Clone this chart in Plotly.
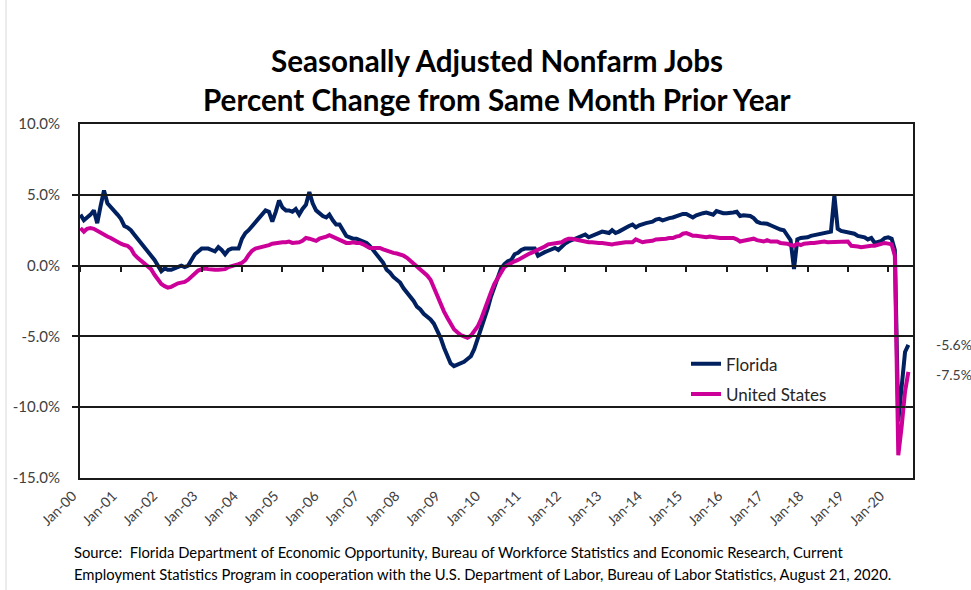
import pandas as pd
import plotly.graph_objects as go

# ---------------- data (percent change from same month prior year) ----------------
months = pd.date_range("2000-01-01", periods=247, freq="MS")

florida = [
    3.6, 3.2, 3.4, 3.6, 3.9, 3.0, 4.2, 5.3, 4.4, 4.1, 3.8, 3.6,          # 2000
    3.3, 2.8, 2.7, 2.5, 2.2, 1.9, 1.6, 1.3, 1.0, 0.7, 0.4, 0.0,          # 2001
    -0.4, -0.2, -0.3, -0.3, -0.2, -0.1, 0.0, -0.1, 0.0, 0.4, 0.8, 1.0,   # 2002
    1.2, 1.2, 1.2, 1.1, 1.0, 1.3, 1.1, 0.8, 1.1, 1.2, 1.2, 1.2,          # 2003
    1.9, 2.3, 2.5, 2.8, 3.1, 3.4, 3.6, 3.9, 3.8, 3.1, 3.8, 4.6,          # 2004
    4.1, 3.9, 3.9, 3.8, 4.0, 3.6, 4.0, 4.3, 5.2, 4.4, 3.9, 3.7,          # 2005
    3.5, 3.4, 3.6, 3.2, 2.9, 2.9, 2.5, 2.1, 2.0, 1.9, 1.9, 1.8,          # 2006
    1.7, 1.6, 1.4, 1.1, 0.8, 0.5, 0.2, -0.3, -0.5, -0.8, -1.0, -1.2,     # 2007
    -1.6, -1.9, -2.1, -2.5, -2.9, -3.1, -3.4, -3.6, -3.8, -4.1, -4.6, -5.1,  # 2008
    -5.8, -6.4, -6.9, -7.1, -7.0, -6.9, -6.8, -6.6, -6.4, -5.9, -5.2, -4.4,  # 2009
    -3.7, -3.0, -2.2, -1.5, -0.9, -0.2, 0.1, 0.3, 0.4, 0.8, 0.9, 1.1,    # 2010
    1.2, 1.2, 1.25, 1.2, 0.7, 0.85, 0.95, 1.05, 1.15, 1.25, 1.1, 1.35,   # 2011
    1.55, 1.7, 1.8, 1.9, 2.0, 2.1, 2.2, 2.0, 2.1, 2.2, 2.3, 2.4,         # 2012
    2.35, 2.3, 2.5, 2.3, 2.4, 2.55, 2.7, 2.8, 2.9, 2.7, 2.85, 2.95,      # 2013
    3.0, 3.05, 3.1, 3.25, 3.3, 3.2, 3.3, 3.35, 3.4, 3.5, 3.6, 3.65,      # 2014
    3.65, 3.55, 3.4, 3.55, 3.65, 3.7, 3.75, 3.7, 3.6, 3.85, 3.75, 3.7,   # 2015
    3.7, 3.7, 3.75, 3.8, 3.5, 3.55, 3.5, 3.5, 3.35, 3.1, 3.0, 3.0,       # 2016
    2.95, 2.85, 2.75, 2.65, 2.55, 2.5, 2.2, 1.8, -0.25, 1.85, 1.95, 1.95,  # 2017
    2.0, 2.1, 2.15, 2.15, 2.2, 2.25, 2.35, 2.4, 4.95, 2.6, 2.45, 2.4,    # 2018
    2.4, 2.3, 2.25, 2.1, 2.05, 2.0, 1.85, 1.95, 1.6, 1.65, 1.75, 1.95,   # 2019
    2.0, 1.9, 1.1, -11.0, -8.4, -6.1, -5.6,                              # 2020
]

united_states = [
    2.65, 2.4, 2.6, 2.65, 2.6, 2.45, 2.35, 2.2, 2.05, 1.95, 1.8, 1.7,    # 2000
    1.55, 1.45, 1.4, 1.2, 0.8, 0.55, 0.35, 0.15, -0.05, -0.25, -0.65, -1.0,  # 2001
    -1.3, -1.45, -1.55, -1.5, -1.35, -1.25, -1.2, -1.15, -1.0, -0.8, -0.55, -0.35,  # 2002
    -0.25, -0.2, -0.25, -0.3, -0.3, -0.3, -0.3, -0.25, -0.1, -0.05, 0.05, 0.1,  # 2003
    0.2, 0.4, 0.75, 1.05, 1.2, 1.25, 1.3, 1.4, 1.45, 1.55, 1.6, 1.65,    # 2004
    1.65, 1.65, 1.7, 1.6, 1.6, 1.65, 1.75, 1.95, 1.9, 1.8, 1.75, 1.9,    # 2005
    1.95, 2.05, 2.15, 2.05, 1.95, 1.8, 1.7, 1.6, 1.6, 1.65, 1.6, 1.6,    # 2006
    1.5, 1.35, 1.25, 1.25, 1.25, 1.25, 1.15, 1.05, 0.95, 0.9, 0.85, 0.8,  # 2007
    0.7, 0.55, 0.35, 0.1, -0.1, -0.3, -0.45, -0.7, -1.0, -1.6, -2.2, -2.8,  # 2008
    -3.25, -3.7, -4.15, -4.5, -4.7, -4.9, -5.0, -5.1, -4.95, -4.65, -4.3, -3.8,  # 2009
    -3.1, -2.5, -1.9, -1.3, -0.9, -0.45, -0.1, 0.05, 0.2, 0.3, 0.4, 0.55,  # 2010
    0.7, 0.8, 0.9, 1.0, 1.1, 1.2, 1.35, 1.5, 1.55, 1.6, 1.6, 1.65,       # 2011
    1.8, 1.9, 1.9, 1.85, 1.75, 1.7, 1.65, 1.65, 1.65, 1.6, 1.6, 1.6,     # 2012
    1.55, 1.5, 1.5, 1.55, 1.6, 1.6, 1.65, 1.65, 1.65, 1.85, 1.75, 1.65,  # 2013
    1.7, 1.7, 1.75, 1.85, 1.85, 1.9, 1.9, 1.95, 1.95, 2.05, 2.1, 2.25,   # 2014
    2.3, 2.2, 2.1, 2.1, 2.05, 2.05, 2.0, 2.05, 2.0, 2.0, 1.95, 1.95,     # 2015
    1.95, 2.0, 1.95, 1.85, 1.7, 1.75, 1.8, 1.85, 1.9, 1.8, 1.75, 1.7,    # 2016
    1.8, 1.7, 1.7, 1.7, 1.6, 1.6, 1.55, 1.45, 1.4, 1.55, 1.45, 1.55,     # 2017
    1.6, 1.6, 1.6, 1.65, 1.65, 1.7, 1.65, 1.65, 1.65, 1.65, 1.65, 1.7,   # 2018
    1.7, 1.4, 1.4, 1.35, 1.3, 1.35, 1.35, 1.4, 1.4, 1.45, 1.5, 1.6,      # 2019
    1.55, 1.5, 0.7, -13.4, -11.4, -8.9, -7.5,                            # 2020
]

tick_years = list(range(2000, 2021))
x_ticktext = [f"Jan-{y % 100:02d}" for y in tick_years]
tick_dates = [pd.Timestamp(f"{y}-01-01") for y in tick_years]

y_tickvals = [10, 5, 0, -5, -10, -15]
y_ticktext = ["10.0%", "5.0%", "0.0%", "-5.0%", "-10.0%", "-15.0%"]

title_lines = ["Seasonally Adjusted Nonfarm Jobs",
               "Percent Change from Same Month Prior Year"]
source_lines = [
    "Source:  Florida Department of Economic Opportunity, Bureau of Workforce Statistics and Economic Research, Current",
    "Employment Statistics Program in cooperation with the U.S. Department of Labor, Bureau of Labor Statistics, August 21, 2020.",
]

FL_COLOR = "#002060"
US_COLOR = "#CC0099"
FONT = "Lato"
GRAY = "#404040"
LINE = "#1a1a1a"

# layout geometry: paper spans x 72..913; plot area 80..913; labels axis shifted 8px left
ML, MR, MT, MB = 72, 58, 124, 112
PW = 971 - ML - MR
PH = 590 - MT - MB
SHIFT = 8 / PW

# ---------------- figure ----------------
fig = go.Figure()
fig.add_trace(go.Scatter(x=months, y=florida, name="Florida", mode="lines",
                         legendgroup="fl", line=dict(color=FL_COLOR, width=4)))
fig.add_trace(go.Scatter(x=months, y=united_states, name="United States", mode="lines",
                         legendgroup="us", line=dict(color=US_COLOR, width=4)))
# invisible helper traces so the tick axis (on the 0% line) and label axis are drawn
fig.add_trace(go.Scatter(x=months, y=florida, xaxis="x2", mode="lines",
                         line=dict(width=0), opacity=0, showlegend=False, hoverinfo="skip"))
fig.add_trace(go.Scatter(x=months, y=florida, xaxis="x3", mode="lines",
                         line=dict(width=0), opacity=0, showlegend=False, hoverinfo="skip"))

x_range = ["1999-12-28", "2020-08-12"]

fig.update_layout(
    width=971, height=590,
    margin=dict(l=ML, r=MR, t=MT, b=MB),
    paper_bgcolor="white", plot_bgcolor="rgba(0,0,0,0)",
    font=dict(family=FONT, color=GRAY),
    showlegend=True,
    legend=dict(x=(686 - ML) / PW, y=0.372, xanchor="left", yanchor="top",
                bgcolor="rgba(0,0,0,0)", font=dict(size=17, color="#262626", family=FONT),
                itemwidth=30, tracegroupgap=5),
    xaxis=dict(type="date", range=x_range, domain=[SHIFT, 1], anchor="y",
               showticklabels=False, ticks="", showgrid=False,
               showline=True, linecolor=LINE, linewidth=2, mirror=True),
    xaxis2=dict(type="date", overlaying="x", range=x_range, anchor="free", position=0.6,
                side="bottom", tickvals=tick_dates, ticks="outside",
                ticklen=5, tickwidth=1.5, tickcolor=LINE, showticklabels=False,
                showgrid=False, showline=False, zeroline=False),
    xaxis3=dict(type="date", range=x_range, domain=[0, 1 - SHIFT], anchor="y",
                side="bottom", tickvals=tick_dates, ticktext=x_ticktext,
                tickangle=-45, ticks="", showgrid=False, showline=False, zeroline=False,
                tickfont=dict(size=14, color=GRAY, family=FONT), ticklabelstandoff=6),
    yaxis=dict(range=[-15, 10], anchor="x", tickvals=y_tickvals, ticktext=y_ticktext,
               showgrid=True, gridcolor=LINE, gridwidth=1.5, zeroline=False,
               showline=True, linecolor=LINE, linewidth=2, mirror=True,
               ticks="", tickfont=dict(size=15, color=GRAY, family=FONT),
               ticklabelstandoff=15),
)

# faint chart-area border at the far left of the image
fig.add_shape(type="line", xref="paper", yref="paper",
              x0=(6 - ML) / PW, x1=(6 - ML) / PW, y0=-(590 - MT - PH) / PH, y1=MT / PH + 1,
              line=dict(color="#D9D9D9", width=1))

# title (two lines), centred over the plot area
for line, ypos in zip(title_lines, [1.178, 1.07]):
    fig.add_annotation(text=f"<b>{line}</b>", xref="paper", yref="paper",
                       x=(496.5 - ML) / PW, y=ypos, xanchor="center", yanchor="middle",
                       showarrow=False, font=dict(size=29.6, color="black", family=FONT))

# end-of-series labels
fig.add_annotation(text=f"{florida[-1]:.1f}%", xref="paper", yref="y",
                   x=(934 - ML) / PW, y=florida[-1], xanchor="left", yanchor="middle",
                   showarrow=False, font=dict(size=14, color=GRAY, family=FONT))
fig.add_annotation(text=f"{united_states[-1]:.1f}%", xref="paper", yref="y",
                   x=(934 - ML) / PW, y=united_states[-1], yshift=-3, xanchor="left", yanchor="middle",
                   showarrow=False, font=dict(size=14, color=GRAY, family=FONT))

# source note (two lines)
for line, ypos in zip(source_lines, [-0.209, -0.271]):
    fig.add_annotation(text=line, xref="paper", yref="paper",
                       x=0, y=ypos, xanchor="left", yanchor="middle", align="left",
                       showarrow=False, font=dict(size=14.8, color="black", family=FONT))

fig.write_html("out.html", config={"displayModeBar": False},
               post_script="document.body.style.margin='0px';")
